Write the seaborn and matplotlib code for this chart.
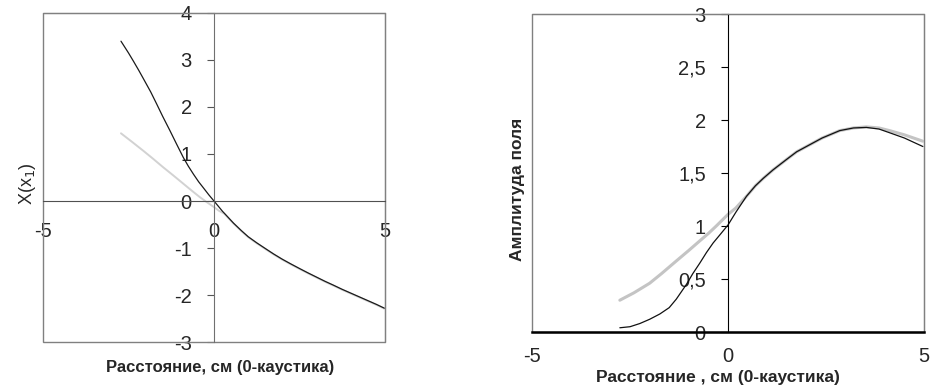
import numpy as np
import pandas as pd
import matplotlib
matplotlib.use("Agg")
import matplotlib.pyplot as plt
from matplotlib.patches import Rectangle
import seaborn as sns

sns.set_style("white")
plt.rcParams['font.family'] = ['Liberation Sans', 'DejaVu Sans']
plt.rcParams['axes.unicode_minus'] = False

# left panel: X(x1)
left_x_black = [-2.72, -2.5, -2.36, -2.2, -2.07, -1.85, -1.68, -1.5, -1.29, -1.1, -0.90, -0.75, -0.60, -0.45, -0.31, -0.15, 0.0,
                0.25, 0.57, 0.8, 1.0, 1.25, 1.54, 1.75, 2.0, 2.25, 2.51, 2.75, 3.0, 3.25, 3.49, 3.75, 4.0, 4.25, 4.5, 4.75, 4.98]
left_y_black = [3.40, 3.15, 2.98, 2.78, 2.61, 2.32, 2.07, 1.80, 1.50, 1.22, 0.93, 0.74, 0.57, 0.41, 0.28, 0.13, 0.0,
                -0.22, -0.47, -0.63, -0.76, -0.89, -1.03, -1.13, -1.24, -1.34, -1.44, -1.53, -1.62, -1.71, -1.79, -1.88, -1.96, -2.04, -2.12, -2.20, -2.28]
left_x_grey = [-2.72, -2.4, -2.07, -1.8, -1.49, -1.2, -0.90, -0.65, -0.41, -0.2, 0.0, 0.15, 0.3, 0.57, 0.8, 1.0, 1.25, 1.54,
               1.75, 2.0, 2.25, 2.51, 2.75, 3.0, 3.25, 3.49, 3.75, 4.0, 4.25, 4.5, 4.75, 4.98]
left_y_grey = [1.44, 1.26, 1.07, 0.91, 0.72, 0.55, 0.37, 0.22, 0.08, -0.03, -0.13, -0.21, -0.27, -0.48, -0.64, -0.77, -0.90, -1.04,
               -1.14, -1.25, -1.35, -1.45, -1.54, -1.63, -1.72, -1.80, -1.89, -1.97, -2.05, -2.13, -2.21, -2.29]

# right panel: field amplitude
right_x_black = [-2.76, -2.5, -2.25, -2.0, -1.74, -1.5, -1.32, -1.06, -0.9, -0.72, -0.55, -0.38, -0.2, 0.0, 0.2, 0.47, 0.7, 0.9,
                 1.15, 1.5, 1.75, 2.0, 2.4, 2.85, 3.2, 3.53, 3.85, 4.12, 4.5, 4.97]
right_y_black = [0.04, 0.05, 0.08, 0.12, 0.17, 0.23, 0.31, 0.45, 0.55, 0.65, 0.75, 0.84, 0.92, 1.01, 1.13, 1.28, 1.38, 1.45,
                 1.53, 1.63, 1.70, 1.75, 1.83, 1.90, 1.925, 1.93, 1.915, 1.88, 1.83, 1.75]
right_x_grey = [-2.76, -2.4, -2.0, -1.7, -1.32, -1.0, -0.72, -0.5, -0.30, 0.0, 0.2, 0.47, 0.7, 0.9, 1.15, 1.5, 1.75, 2.0, 2.4,
                2.85, 3.2, 3.53, 3.85, 4.12, 4.5, 4.97]
right_y_grey = [0.30, 0.37, 0.46, 0.55, 0.67, 0.77, 0.86, 0.93, 1.0, 1.11, 1.17, 1.28, 1.38, 1.45, 1.53, 1.63, 1.70, 1.75, 1.83,
                1.90, 1.925, 1.935, 1.925, 1.90, 1.86, 1.80]

left_yticks = [-3, -2, -1, 0, 1, 2, 3, 4]
right_yticks = [0, 0.5, 1, 1.5, 2, 2.5, 3]
right_ytick_labels = ['0', '0,5', '1', '1,5', '2', '2,5', '3']
xticks = [-5, 0, 5]

fig = plt.figure(figsize=(9.45, 3.89), dpi=100)
ax1 = fig.add_axes([0.0455, 0.1208, 0.3619, 0.8458])
ax2 = fig.add_axes([0.563, 0.1465, 0.4148, 0.8175])

# %%
# left chart
sns.lineplot(x=left_x_grey, y=left_y_grey, ax=ax1, color='#d2d2d2', linewidth=1.4, sort=False)
sns.lineplot(x=left_x_black, y=left_y_black, ax=ax1, color='#1a1a1a', linewidth=0.9, sort=False)
ax1.set_xlim(-5, 5)
ax1.set_ylim(-3, 4)
for s in ['top', 'right']:
    ax1.spines[s].set_color('#808080')
ax1.spines['left'].set_position(('data', 0))
ax1.spines['bottom'].set_position(('data', 0))
ax1.spines['left'].set_color('#707070')
ax1.spines['bottom'].set_color('#505050')
ax1.add_patch(Rectangle((0, 0), 1, 1, transform=ax1.transAxes, fill=False, ec='#808080', lw=1.0, clip_on=False))
ax1.set_yticks(left_yticks)
ax1.set_xticks(xticks)
ax1.tick_params(axis='y', left=True, length=5, width=0.8, color='#555555', pad=11, labelsize=14.5)
ax1.tick_params(axis='x', bottom=False, length=0, pad=15, labelsize=14.5)
ax1.set_ylabel('X(x$_1$)', fontsize=13)
ax1.yaxis.set_label_coords(-0.015, 0.48)
ax1.set_xlabel('Расстояние, см (0-каустика)', fontsize=12, fontweight='bold')
ax1.xaxis.set_label_coords(0.517, -0.055)

# %%
# right chart
sns.lineplot(x=right_x_grey, y=right_y_grey, ax=ax2, color='#c4c4c4', linewidth=2.2, sort=False)
sns.lineplot(x=right_x_black, y=right_y_black, ax=ax2, color='#111111', linewidth=0.9, sort=False)
ax2.set_xlim(-5, 5)
ax2.set_ylim(0, 3)
for s in ['top', 'right']:
    ax2.spines[s].set_color('#808080')
ax2.spines['left'].set_position(('data', 0))
ax2.spines['left'].set_color('black')
ax2.spines['bottom'].set_color('black')
ax2.spines['bottom'].set_linewidth(1.8)
ax2.add_patch(Rectangle((0, 0), 1, 1, transform=ax2.transAxes, fill=False, ec='#808080', lw=1.0, clip_on=False))
ax2.set_yticks(right_yticks)
ax2.set_yticklabels(right_ytick_labels)
ax2.set_xticks(xticks)
ax2.tick_params(axis='y', left=True, length=5, width=0.8, color='black', pad=11, labelsize=14.5)
ax2.tick_params(axis='x', bottom=False, length=0, pad=11, labelsize=14.5)
ax2.set_ylabel('Амплитуда поля', fontsize=12.5, fontweight='bold')
ax2.yaxis.set_label_coords(-0.018, 0.45)
ax2.set_xlabel('Расстояние , см (0-каустика)', fontsize=12.5, fontweight='bold')
ax2.xaxis.set_label_coords(0.473, -0.12)

fig.savefig('out.png', dpi=100)
